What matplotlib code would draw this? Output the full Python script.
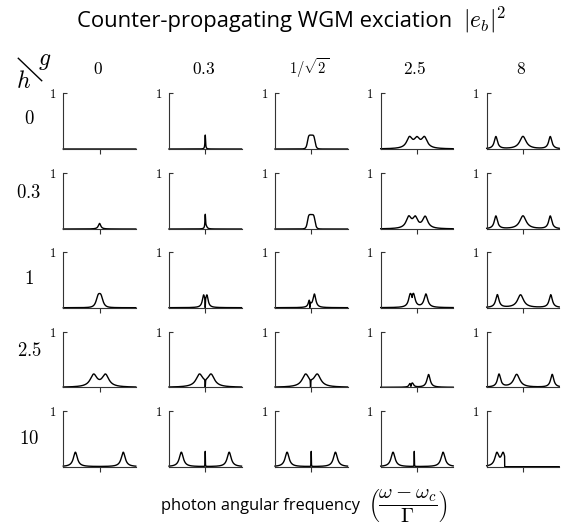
import numpy as np
import matplotlib.pyplot as plt
from matplotlib.lines import Line2D

plt.rcParams['mathtext.fontset'] = 'cm'

W, H = 573, 530

h_labels = ['0', '0.3', '1', '2.5', '10']
g_labels = ['0', '0.3', r'1/\sqrt{2}', '2.5', '8']

# peaks: (centre, height, half width[, power])
# a negative height is a narrow dip in the line
peaks_h0 = [
    [],
    [(0.0, 0.25, 0.15)],
    [(0.0, 0.25, 1.6, 6)],
    [(-3.1, 0.19, 1.4), (0.0, 0.16, 1.4), (3.1, 0.19, 1.4)],
    [(-11.2, 0.22, 0.8), (0.0, 0.225, 1.6), (11.3, 0.22, 0.8)],
]
peaks_h03 = [
    [(0.0, 0.1, 0.6)],
    [(0.0, 0.24, 0.15), (0.4, 0.04, 0.5)],
    [(0.0, 0.26, 1.6, 6)],
    [(-3.4, 0.2, 1.3), (-0.7, 0.18, 1.2), (3.4, 0.21, 1.3)],
    [(-11.2, 0.23, 0.8), (0.0, 0.235, 1.6), (11.3, 0.23, 0.8)],
]
peaks_h1 = [
    [(0.0, 0.255, 1.4, 3)],
    [(-0.7, 0.2, 0.6), (0.7, 0.2, 0.6), (0.0, -0.17, 0.06)],
    [(-0.8, 0.12, 0.5), (1.3, 0.24, 0.7), (-0.6, -0.13, 0.06)],
    [(-2.8, 0.2, 0.8), (-1.4, 0.2, 0.8), (3.7, 0.24, 0.9), (-2.0, -0.05, 0.06)],
    [(-10.6, 0.23, 0.8), (-1.0, 0.23, 1.5), (11.5, 0.23, 0.8)],
]
peaks_h25 = [
    [(-2.45, 0.216, 1.7), (2.45, 0.216, 1.7)],
    [(-2.4, 0.216, 1.7), (2.4, 0.216, 1.7), (0.0, -0.144, 0.08)],
    [(-2.35, 0.216, 1.7), (2.5, 0.216, 1.7), (-0.3, -0.146, 0.08)],
    [(-3.0, 0.05, 0.4), (-1.9, 0.07, 0.6), (4.8, 0.23, 0.8), (-2.5, -0.04, 0.08)],
    [(-9.9, 0.23, 0.8), (-2.6, 0.23, 1.5), (12.1, 0.23, 0.8)],
]
peaks_h10 = [
    [(-10.0, 0.26, 1.0), (9.8, 0.26, 1.0)],
    [(-9.9, 0.26, 1.0), (9.9, 0.26, 1.0), (0.0, 0.27, 0.04)],
    [(-10.0, 0.26, 1.0), (10.0, 0.26, 1.0), (0.0, 0.27, 0.04)],
    [(-9.9, 0.26, 1.0), (10.8, 0.26, 1.0), (-1.1, 0.27, 0.04)],
    [(-10.8, 0.23, 1.0), (-8.2, 0.23, 1.0)],
]
all_rows = [peaks_h0, peaks_h03, peaks_h1, peaks_h25, peaks_h10]

# the h=10, g=8 trace stops past this frequency
cut_h10_g8 = -7.6

x = np.linspace(-15, 15, 6001)


def spectrum(peaks):
    y = np.zeros_like(x)
    for pk in peaks:
        c, a, w = pk[:3]
        p = pk[3] if len(pk) > 3 else 2
        y += a / (1 + np.abs((x - c) / w) ** p)
    return np.clip(y, 0, None)


# panel positions in pixels
col_left = [63.3, 169.0, 275.0, 380.7, 486.7]
row_bottom = [149.0, 229.0, 307.7, 387.3, 466.7]
ax_w, ax_h = 72.5, 55.7

fig = plt.figure(figsize=(W / 100, H / 100), dpi=100)

for i, row in enumerate(all_rows):
    for j, peaks in enumerate(row):
        ax = fig.add_axes([col_left[j] / W, 1 - row_bottom[i] / H, ax_w / W, ax_h / H])
        y = spectrum(peaks)
        if i == 4 and j == 4:
            y[x > cut_h10_g8] = 0
        ax.plot(x, y, color='black', lw=1.0, clip_on=False)
        ax.set_xlim(-15, 15)
        ax.set_ylim(0, 1)
        ax.spines['top'].set_visible(False)
        ax.spines['right'].set_visible(False)
        for s in ['left', 'bottom']:
            ax.spines[s].set_linewidth(0.8)
            ax.spines[s].set_color('0.2')
        ax.set_xticks([0])
        ax.set_xticklabels([])
        ax.set_yticks([1])
        ax.set_yticklabels(['$1$'], fontsize=9)
        ax.tick_params(axis='x', direction='out', length=3.5, width=0.8, color='0.2')
        ax.tick_params(axis='y', direction='in', length=3, width=0.8, pad=5, color='0.2')

# column headers (g) and row labels (h)
header_size = [12.5, 12.5, 10.5, 12.5, 12.5]
for j, lab in enumerate(g_labels):
    fig.text((col_left[j] + ax_w / 2 - 2) / W, 1 - 74 / H, f'${lab}$',
             ha='center', va='baseline', fontsize=header_size[j])

row_label_y = [118, 193, 278, 350, 438]
for i, lab in enumerate(h_labels):
    fig.text(29 / W, 1 - row_label_y[i] / H, f'${lab}$',
             ha='center', va='center', fontsize=13.5)

fig.add_artist(Line2D([18.3 / W, 41.7 / W], [1 - 58.3 / H, 1 - 80.7 / H], color='black', lw=1.0))
fig.text(45 / W, 1 - 60 / H, '$g$', ha='center', va='center', fontsize=17)
fig.text(24 / W, 1 - 81 / H, '$h$', ha='center', va='center', fontsize=17)

title = fig.text(76.7 / W, 1 - 27 / H, 'Counter-propagating WGM exciation',
                 family='Open Sans', fontsize=15.8, va='baseline')
xlab = fig.text(161 / W, 1 - 506 / H, 'photon angular frequency',
                family='Open Sans', fontsize=11.8, va='center')

# put the math parts right after the plain text
fig.canvas.draw()
r = fig.canvas.get_renderer()
tb = title.get_window_extent(r)
xb = xlab.get_window_extent(r)
fig.text((tb.x1 + 11) / W, 1 - 27 / H, '$|e_b|^2$', fontsize=17, va='baseline')
fig.text((xb.x1 + 8) / W, 1 - 506 / H, r'$\left(\dfrac{\omega-\omega_c}{\Gamma}\right)$',
         fontsize=15, va='center')

fig.savefig('out.png', dpi=100)
